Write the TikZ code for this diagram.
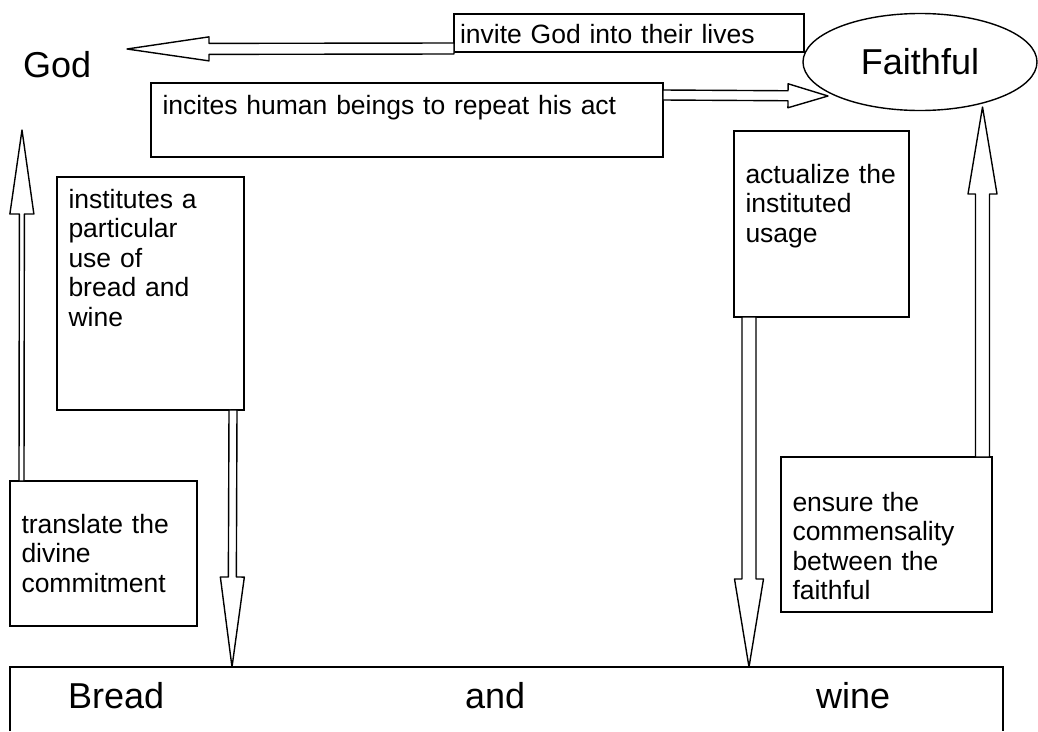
\documentclass[tikz,border=0pt]{standalone}
\usepackage{fontspec}
\setmainfont{Liberation Sans}
\usetikzlibrary{calc,shapes.geometric}

\newcommand{\smalltext}{\fontsize{26.5}{29.5}\selectfont}
\newcommand{\bigtext}{\fontsize{36}{40}\selectfont}
% hollow block arrow: tail, tip, half shaft, half head, head length
\newcommand{\blockarrow}[5]{%
  \coordinate (hb) at ($(#2)!#5!(#1)$);
  \draw[arrowline] ($(#1)!#3!90:(#2)$) -- ($(hb)!#3!90:(#2)$) -- ($(hb)!#4!90:(#2)$) -- (#2)
    -- ($(hb)!#4!-90:(#2)$) -- ($(hb)!#3!-90:(#2)$) -- ($(#1)!#3!-90:(#2)$) -- cycle;
}

\begin{document}
\begin{tikzpicture}[x=1pt, y=-1pt,
  box/.style={draw, line width=1.4pt, anchor=north west, outer sep=0pt, inner ysep=0pt, inner xsep=11.5pt, align=left, font=\smalltext},
  arrowline/.style={draw, fill=white, line width=1.4pt, line join=round},
  word/.style={font=\bigtext, inner sep=0pt, anchor=base west}]
  \useasboundingbox (0,0) rectangle (1038,731);

  % top row
  \node[word] (god) at (23,77.7) {God};
  \node[draw, ellipse, line width=1.4pt, minimum width=234pt, minimum height=97pt, inner sep=0pt, font=\bigtext] (faithful) at (920,62) {Faithful};
  \node[box, text width=338pt, inner xsep=6pt, text height=29.3pt, text depth=8.7pt] (invite) at (454,14) {invite God into their lives};
  \node[box, text width=489pt, text height=31pt, text depth=43pt] (incites) at (151,83) {incites human beings to repeat his act};

  % side boxes
  \node[box, text width=164pt, text height=31pt, text depth=202pt] (institutes) at (57,177) {institutes a\\particular\\use of\\bread and\\wine};
  \node[box, text width=164pt, text height=52pt, text depth=93pt] (translate) at (10,481) {translate the\\divine\\commitment};
  \node[box, text width=152pt, text height=52pt, text depth=134pt] (actualize) at (734,131) {actualize the\\instituted\\usage};
  \node[box, text width=188pt, text height=54pt, text depth=101pt] (ensure) at (781,457) {ensure the\\commensality\\between the\\faithful};

  % bottom
  \node[anchor=north west, inner sep=0pt, outer sep=0pt, minimum width=993pt, minimum height=64pt] (table) at (10,667) {};
  \draw[line width=1.4pt] (table.south west) |- (table.north east) -- (table.south east);
  \node[word] (bread) at (68,708) {Bread};
  \node[word] (and) at (465,708) {and};
  \node[word] (wine) at (816,708) {wine};

  % arrows
  \coordinate (invtail) at ([yshift=3.5pt]invite.south west);
  \coordinate (godtip) at (127,49);
  \coordinate (inctail) at ([yshift=-12pt]incites.north east);
  \coordinate (faithtip) at (828,96);
  \coordinate (trtail) at ([xshift=11.5pt]translate.north west);
  \coordinate (uptip) at (22,130);
  \coordinate (insttail) at ([xshift=-11pt]institutes.south east);
  \coordinate (breadtip) at ([xshift=222pt]table.north west);
  \coordinate (acttail) at ([xshift=15pt]actualize.south west);
  \coordinate (winetip) at ([xshift=739pt]table.north west);
  \coordinate (enstail) at ([xshift=-9.5pt]ensure.north east);
  \coordinate (faithlow) at (982.5,107);

  \blockarrow{invtail}{godtip}{5.5pt}{12pt}{82pt}
  \blockarrow{inctail}{faithtip}{5pt}{12pt}{40pt}
  \blockarrow{trtail}{uptip}{2.5pt}{12pt}{84pt}
  \blockarrow{insttail}{breadtip}{4pt}{12pt}{90pt}
  \blockarrow{acttail}{winetip}{7pt}{14.5pt}{88pt}
  \blockarrow{enstail}{faithlow}{7pt}{14.5pt}{87pt}
\end{tikzpicture}
\end{document}
